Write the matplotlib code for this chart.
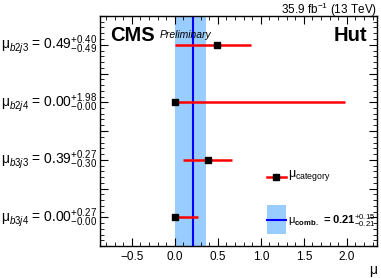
import numpy as np
import matplotlib
matplotlib.use("Agg")
import matplotlib.pyplot as plt
from matplotlib.ticker import MultipleLocator
from matplotlib.patches import Rectangle
from matplotlib.lines import Line2D

plt.rcParams["font.family"] = ["Liberation Sans", "DejaVu Sans"]
plt.rcParams["mathtext.fontset"] = "custom"
plt.rcParams["mathtext.rm"] = "Liberation Sans"
plt.rcParams["mathtext.it"] = "Liberation Sans:italic"
plt.rcParams["mathtext.bf"] = "Liberation Sans:bold"

# -------------------------------------------------------------------
# DATA
# -------------------------------------------------------------------
categories = ["b2j3", "b2j4", "b3j3", "b3j4"]
mu_values = [0.49, 0.00, 0.39, 0.00]
err_up = [0.40, 1.98, 0.27, 0.27]
err_down = [0.49, 0.00, 0.30, 0.00]

mu_comb = 0.21
comb_up = 0.15
comb_down = 0.21

# -------------------------------------------------------------------
# PLOT
# -------------------------------------------------------------------
fig = plt.figure(figsize=(3.81, 2.78), dpi=100)
ax = fig.add_axes([100 / 381, 1 - 246 / 278, 277 / 381, 230 / 278])

n = len(categories)
ypos = np.arange(n)[::-1] + 0.5

ax.axvspan(mu_comb - comb_down, mu_comb + comb_up, color="#99ccff", lw=0, zorder=1)
ax.axvline(mu_comb, color="#0000ff", lw=1.5, zorder=2)

ax.errorbar(mu_values, ypos, xerr=[err_down, err_up], fmt="s", color="black",
            ecolor="#ff0000", elinewidth=1.8, capsize=0, markersize=5, zorder=3)

for y, cat, v, up, dn in zip(ypos, categories, mu_values, err_up, err_down):
    label = rf"μ$_{{{cat}}}$ = {v:.2f}$^{{+{up:.2f}}}_{{-{dn:.2f}}}$"
    ax.text(-0.012, y, label, transform=ax.get_yaxis_transform(),
            ha="right", va="center", fontsize=10)

ax.set_xlim(-0.87, 2.35)
ax.set_ylim(0, n)
ax.xaxis.set_major_locator(MultipleLocator(0.5))
ax.xaxis.set_minor_locator(MultipleLocator(0.1))
ax.yaxis.set_major_locator(MultipleLocator(0.5))
ax.yaxis.set_minor_locator(MultipleLocator(0.1))
ax.tick_params(which="both", direction="in", top=True, right=True, labelsize=8.5)
ax.tick_params(which="major", length=6)
ax.tick_params(which="minor", length=3)
ax.tick_params(axis="y", labelleft=False)
for s in ax.spines.values():
    s.set_linewidth(1.0)

ax.set_xlabel("μ", loc="right", fontsize=10, labelpad=0)

# legend (drawn by hand, axes coords)
ax.add_line(Line2D([0.603, 0.671], [0.30, 0.30], transform=ax.transAxes,
                   color="#ff0000", lw=1.8, zorder=5))
ax.plot([0.637], [0.30], "s", color="black", markersize=5, transform=ax.transAxes, zorder=6)
ax.text(0.679, 0.305, r"μ$_{\mathrm{category}}$", transform=ax.transAxes,
        ha="left", va="center", fontsize=9)
ax.add_patch(Rectangle((0.603, 0.052), 0.068, 0.126, transform=ax.transAxes,
                       color="#99ccff", lw=0, zorder=5))
ax.add_line(Line2D([0.603, 0.671], [0.113, 0.113], transform=ax.transAxes,
                   color="#0000ff", lw=1.5, zorder=6))
ax.text(0.679, 0.11,
        rf"μ$_{{\mathbf{{comb.}}}}$ $\mathbf{{= {mu_comb:.2f}}}^{{+{comb_up:.2f}}}_{{-{comb_down:.2f}}}$",
        transform=ax.transAxes, ha="left", va="center", fontsize=8)

# header texts
ax.text(0.036, 0.955, "CMS", transform=ax.transAxes, ha="left", va="top",
        fontsize=14.5, fontweight="bold")
ax.text(0.215, 0.905, "Preliminary", transform=ax.transAxes, ha="left",
        va="baseline", fontsize=7.5, style="italic")
ax.text(0.964, 0.955, "Hut", transform=ax.transAxes, ha="right", va="top",
        fontsize=14.5, fontweight="bold")
fig.text(377 / 381, 1 - 14 / 278, r"35.9 fb$^{-1}$ (13 TeV)", ha="right",
         va="baseline", fontsize=8.5)

fig.savefig("out.png", dpi=100)
